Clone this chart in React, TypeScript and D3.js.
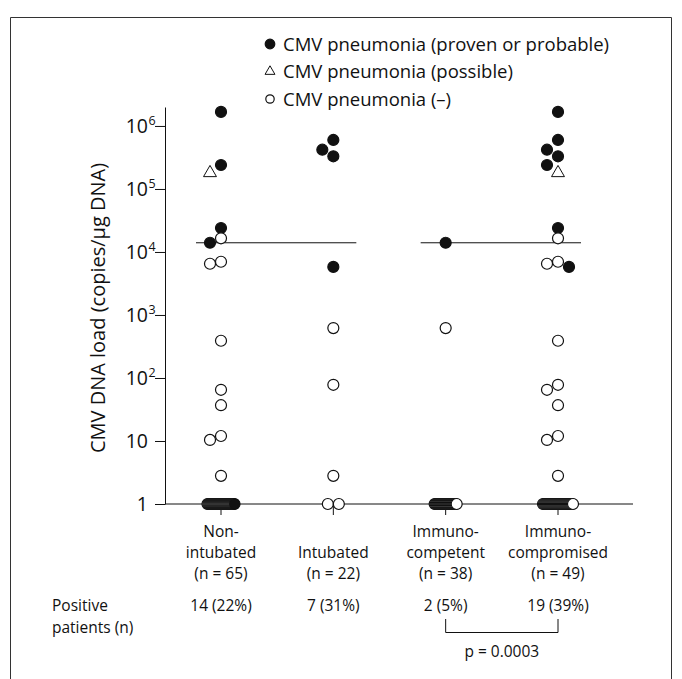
import React, { useEffect, useRef } from "react";
import * as d3 from "d3";

// groups along the x axis
const groups = ["Non-intubated", "Intubated", "Immuno-competent", "Immuno-compromised"];
const groupLabelLines = [
    ["Non-", "intubated", "(n = 65)"],
    ["", "Intubated", "(n = 22)"],
    ["Immuno-", "competent", "(n = 38)"],
    ["Immuno-", "compromised", "(n = 49)"]
];
const positiveLabels = ["14 (22%)", "7 (31%)", "2 (5%)", "19 (39%)"];

// detectable CMV DNA loads (copies/ug DNA) and pneumonia status
// P = proven or probable, T = possible, N = no pneumonia
const nonIntubatedLoads = [1.67e6, 2.4e5, 1.8e5, 2.4e4, 1.65e4, 1.4e4, 7e3, 6.5e3, 390, 65, 37, 12, 10.4, 2.8];
const nonIntubatedStatus = ["P", "P", "T", "P", "N", "P", "N", "N", "N", "N", "N", "N", "N", "N"];
const intubatedLoads = [6e5, 4.2e5, 3.3e5, 5.8e3, 620, 78, 2.8];
const intubatedStatus = ["P", "P", "P", "P", "N", "N", "N"];
const competentLoads = [1.4e4, 620];
const competentStatus = ["P", "N"];
const compromisedLoads = [1.67e6, 6e5, 4.2e5, 3.3e5, 2.4e5, 1.8e5, 2.4e4, 1.65e4, 7e3, 6.5e3, 5.8e3, 390, 78, 65, 37, 12, 10.4, 2.8];
const compromisedStatus = ["P", "P", "P", "P", "P", "T", "P", "N", "N", "N", "P", "N", "N", "N", "N", "N", "N", "N"];

// marks drawn at 1 copy (below detection), and whether the last one is filled
const baselineCounts = [28, 2, 23, 31];
const baselineLastFilled = [true, false, false, false];

const cutoff = 1.4e4;
const cutoffPairs = [[0, 1], [2, 3]];

const yTicks = [1, 10, 100, 1e3, 1e4, 1e5, 1e6];
const yTickBase = ["1", "10", "10", "10", "10", "10", "10"];
const yTickExp = ["", "", "2", "3", "4", "5", "6"];

const legendStatus = ["P", "T", "N"];
const legendLabels = ["CMV pneumonia (proven or probable)", "CMV pneumonia (possible)", "CMV pneumonia (\u2013)"];

const FONT = "'Open Sans', sans-serif";
const INK = "#111";

function App() {
    const chart = useRef(null);

    useEffect(() => {
        const width = 682;
        const height = 679;
        const svg = d3.select(chart.current)
            .attr("width", width)
            .attr("height", height);
        const g = svg.append("g");

        const axisX = 165;
        const axisRight = 633;
        const r = 5.5;

        const x = d3.scalePoint().domain(groups).range([221, 558]);
        const y = d3.scaleLog().domain([1, 2e6]).range([504, 107]);

        // frame
        g.append("path")
            .attr("d", `M10.5,${height + 2}V17.5H671.5V${height + 2}`)
            .attr("fill", "none")
            .attr("stroke", "#333")
            .attr("stroke-width", 1);

        // y axis
        const yAxis = d3.axisLeft(y)
            .tickValues(yTicks)
            .tickSize(10)
            .tickSizeOuter(0)
            .tickFormat(() => "");
        const ya = g.append("g")
            .attr("transform", `translate(${axisX},0)`)
            .call(yAxis);
        ya.selectAll("path, line").attr("stroke", INK);

        yTicks.forEach((t, i) => {
            g.append("text")
                .attr("x", 148)
                .attr("y", y(t) + 7)
                .attr("text-anchor", "end")
                .attr("font-family", FONT)
                .attr("font-size", 19.5)
                .attr("fill", INK)
                .text(yTickBase[i]);
            if (yTickExp[i]) {
                g.append("text")
                    .attr("x", 148.5)
                    .attr("y", y(t) - 1)
                    .attr("font-family", FONT)
                    .attr("font-size", 12.5)
                    .attr("fill", INK)
                    .text(yTickExp[i]);
            }
        });

        g.append("text")
            .attr("transform", `translate(105,${308}) rotate(-90)`)
            .attr("text-anchor", "middle")
            .attr("font-family", FONT)
            .attr("font-size", 20)
            .attr("fill", INK)
            .text("CMV DNA load (copies/\u00b5g DNA)");

        // x axis line and group ticks
        g.append("line")
            .attr("x1", axisX).attr("x2", axisRight)
            .attr("y1", y(1)).attr("y2", y(1))
            .attr("stroke", INK);
        g.selectAll(".xtick")
            .data(groups)
            .enter()
            .append("line")
                .attr("class", "xtick")
                .attr("x1", d => x(d)).attr("x2", d => x(d))
                .attr("y1", y(1)).attr("y2", y(1) + 11)
                .attr("stroke", INK);

        // cutoff lines
        cutoffPairs.forEach(([a, b]) => {
            g.append("line")
                .attr("x1", x(groups[a]) - 25)
                .attr("x2", x(groups[b]) + 23)
                .attr("y1", y(cutoff)).attr("y2", y(cutoff))
                .attr("stroke", INK);
        });

        const triangle = d3.symbol().type(d3.symbolTriangle);

        const drawMark = (sel, status, cx, cy, size) => {
            if (status === "T") {
                sel.append("path")
                    .attr("d", triangle.size(size * size * 2.4)())
                    .attr("transform", `translate(${cx},${cy})`)
                    .attr("fill", "#fff")
                    .attr("stroke", INK)
                    .attr("stroke-width", 1);
            } else {
                sel.append("circle")
                    .attr("cx", cx).attr("cy", cy)
                    .attr("r", size)
                    .attr("fill", status === "P" ? INK : "#fff")
                    .attr("stroke", INK)
                    .attr("stroke-width", 1.2);
            }
        };

        // simple dodge so near-equal loads sit side by side
        const dodge = (loads) => {
            const placed = [];
            const slots = [0, -1, 1, -2, 2];
            return loads.map(v => {
                const py = y(v);
                for (const s of slots) {
                    const px = s * 2 * r;
                    if (placed.every(p => Math.hypot(p[0] - px, p[1] - py) >= 10)) {
                        placed.push([px, py]);
                        return px;
                    }
                }
                return 0;
            });
        };

        const loads = [nonIntubatedLoads, intubatedLoads, competentLoads, compromisedLoads];
        const status = [nonIntubatedStatus, intubatedStatus, competentStatus, compromisedStatus];

        const marks = g.append("g");
        groups.forEach((grp, gi) => {
            const cx = x(grp);
            // undetectable patients at 1 copy
            const n = baselineCounts[gi];
            const step = n > 2 ? 1 : 2 * r;
            const start = cx - ((n - 1) * step) / 2;
            d3.range(n).forEach(k => {
                const st = k === n - 1 && baselineLastFilled[gi] ? "P" : "N";
                drawMark(marks, st, start + k * step, y(1), r);
            });
            const offsets = dodge(loads[gi]);
            loads[gi].forEach((v, k) => {
                drawMark(marks, status[gi][k], cx + offsets[k], y(v), r);
            });
        });

        // group labels
        groupLabelLines.forEach((lines, gi) => {
            lines.forEach((t, li) => {
                if (!t) return;
                g.append("text")
                    .attr("x", x(groups[gi]))
                    .attr("y", 537 + li * 21)
                    .attr("text-anchor", "middle")
                    .attr("font-family", FONT)
                    .attr("font-size", 15.5)
                    .attr("fill", INK)
                    .text(t);
            });
        });

        // positive patients row
        g.append("text")
            .attr("x", 52).attr("y", 611)
            .attr("font-family", FONT).attr("font-size", 15.5).attr("fill", INK)
            .text("Positive");
        g.append("text")
            .attr("x", 52).attr("y", 633)
            .attr("font-family", FONT).attr("font-size", 15.5).attr("fill", INK)
            .text("patients (n)");
        positiveLabels.forEach((t, gi) => {
            g.append("text")
                .attr("x", x(groups[gi])).attr("y", 611)
                .attr("text-anchor", "middle")
                .attr("font-family", FONT).attr("font-size", 15.5).attr("fill", INK)
                .text(t);
        });

        // comparison bracket
        const bx1 = x(groups[2]);
        const bx2 = x(groups[3]);
        g.append("path")
            .attr("d", `M${bx1},619V632.5H${bx2}V619`)
            .attr("fill", "none")
            .attr("stroke", INK);
        g.append("text")
            .attr("x", (bx1 + bx2) / 2).attr("y", 657)
            .attr("text-anchor", "middle")
            .attr("font-family", FONT).attr("font-size", 15.5).attr("fill", INK)
            .text("p = 0.0003");

        // legend
        legendLabels.forEach((t, i) => {
            const ly = 44 + i * 27.5;
            drawMark(g, legendStatus[i], 270, ly, legendStatus[i] === "P" ? 4.8 : 4.2);
            g.append("text")
                .attr("x", 283).attr("y", ly + 6.5)
                .attr("font-family", FONT).attr("font-size", 18.5).attr("fill", INK)
                .text(t);
        });

        return () => {
            svg.selectAll("*").remove();
        };
    }, []);

    return (
        <svg ref={chart} style={{ position: "absolute", left: 0, top: 0, background: "#fff" }}></svg>
    );
}

export default App;
